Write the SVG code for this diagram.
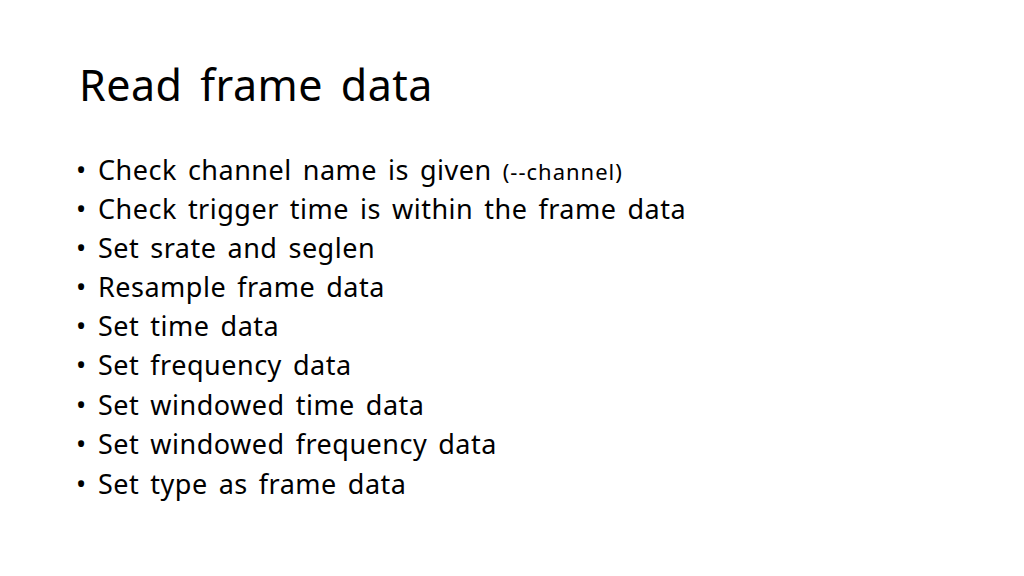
<svg xmlns="http://www.w3.org/2000/svg" width="1024" height="576" viewBox="0 0 1024 576">
<style>
.t{font-family:"Noto Sans","Open Sans",sans-serif;fill:#000}
.b{font-size:27px;letter-spacing:0.5px;word-spacing:3.5px}
.s{font-size:22px;letter-spacing:1px}
</style>
<rect width="1024" height="576" fill="#fff"/>
<text class="t" x="79" y="101" font-size="43" letter-spacing="0.5" word-spacing="6">Read frame data</text>
<g class="t b">
<text x="76" y="180">•</text><text x="98" y="180">Check channel name is given <tspan class="s">(--channel)</tspan></text>
<text x="76" y="219">•</text><text x="98" y="219">Check trigger time is within the frame data</text>
<text x="76" y="258">•</text><text x="98" y="258">Set srate and seglen</text>
<text x="76" y="297">•</text><text x="98" y="297">Resample frame data</text>
<text x="76" y="336">•</text><text x="98" y="336">Set time data</text>
<text x="76" y="375">•</text><text x="98" y="375">Set frequency data</text>
<text x="76" y="415">•</text><text x="98" y="415">Set windowed time data</text>
<text x="76" y="454">•</text><text x="98" y="454">Set windowed frequency data</text>
<text x="76" y="494">•</text><text x="98" y="494">Set type as frame data</text>
</g>
</svg>
